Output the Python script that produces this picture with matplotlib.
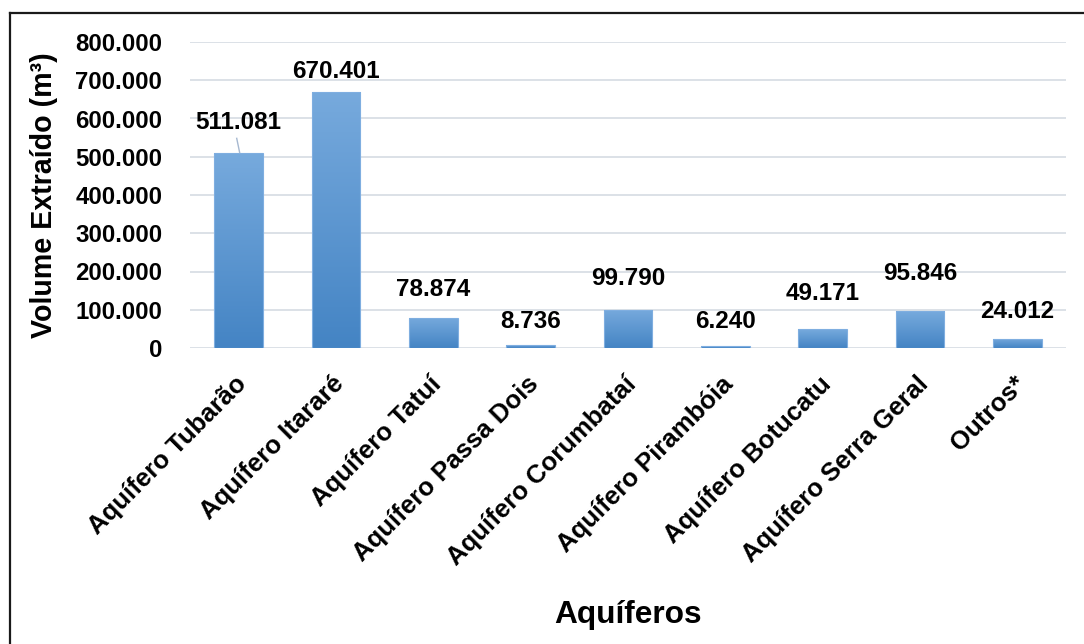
import numpy as np
import matplotlib
matplotlib.use("Agg")
import matplotlib.pyplot as plt
from matplotlib.colors import LinearSegmentedColormap
from matplotlib.lines import Line2D
from matplotlib.ticker import FuncFormatter
from matplotlib.transforms import ScaledTranslation

# data
aquiferos = ["Aquífero Tubarão", "Aquífero Itararé", "Aquífero Tatuí",
             "Aquífero Passa Dois", "Aquífero Corumbataí", "Aquífero Pirambóia",
             "Aquífero Botucatu", "Aquífero Serra Geral", "Outros*"]
volumes = [511081, 670401, 78874, 8736, 99790, 6240, 49171, 95846, 24012]
value_labels = ["511.081", "670.401", "78.874", "8.736", "99.790",
                "6.240", "49.171", "95.846", "24.012"]
y_ticks = [0, 100000, 200000, 300000, 400000, 500000, 600000, 700000, 800000]

# label offsets above each bar (pixels), Excel moves them around a bit
label_dy_px = [30, 20, 28, 23, 31, 24, 36, 38, 27]

plt.rcParams['font.family'] = ['Liberation Sans', 'DejaVu Sans']
plt.rcParams['font.weight'] = 'bold'

fig = plt.figure(figsize=(10.84, 6.44), dpi=100)
ax = fig.add_axes([190 / 1084, 296 / 644, 876 / 1084, 306 / 644])

x = np.arange(len(aquiferos))
width = 0.5
bars = ax.bar(x, volumes, width=width, color='none', edgecolor='#7FAEE0',
              linewidth=0.8, zorder=3)

# vertical gradient inside every bar: light at the top, darker at the bottom
cmap = LinearSegmentedColormap.from_list('blu', ['#4484C4', '#77AADD'])
grad = np.linspace(0, 1, 256).reshape(-1, 1)
for b in bars:
    x0 = b.get_x()
    h = b.get_height()
    im = ax.imshow(grad, extent=[x0, x0 + width, 0, h], origin='lower',
                   aspect='auto', cmap=cmap, zorder=2)
    im.set_clip_path(b)

ax.set_xlim(-0.5, len(aquiferos) - 0.5)
ax.set_ylim(0, 800000)
ax.set_yticks(y_ticks)
ax.yaxis.set_major_formatter(FuncFormatter(lambda v, p: f"{int(v):,}".replace(",", ".")))
ax.grid(axis='y', color='#D9DEE5', linewidth=1.3, zorder=0)
ax.set_axisbelow(True)
for s in ax.spines.values():
    s.set_visible(False)
ax.tick_params(axis='both', length=0)
ax.tick_params(axis='y', pad=20, labelsize=17.3)
ax.tick_params(axis='x', pad=17)
ax.set_xticks(x)
ax.set_xticklabels(aquiferos, rotation=45, ha='right', rotation_mode='anchor',
                   fontsize=18.5, fontweight='bold')
shift = ScaledTranslation(-4 / 100, 0, fig.dpi_scale_trans)
for t in ax.get_xticklabels():
    t.set_transform(t.get_transform() + shift)

# value labels
for i, (v, lab) in enumerate(zip(volumes, value_labels)):
    ax.annotate(lab, (x[i], v), xytext=(0, label_dy_px[i] * 0.72),
                textcoords='offset points', ha='center', va='center',
                fontsize=17.5, fontweight='bold', zorder=5)

# leader line for the first label
ax.add_line(Line2D([x[0] - 0.02, x[0] + 0.01], [volumes[0] + 37000, volumes[0]],
                   color='#A6B8D0', linewidth=1.0, zorder=4))

ax.set_ylabel("Volume Extraído (m³)", fontsize=20.6, fontweight='bold', labelpad=12)
ax.set_xlabel("Aquíferos", fontsize=22.8, fontweight='bold')
ax.xaxis.set_label_coords(628 / 1084, (644 - 600) / 644, transform=fig.transFigure)

# frame around the chart (only left and top show in the crop)
fig.add_artist(Line2D([9.5 / 1084, 9.5 / 1084], [0, 1 - 12.5 / 644],
                      transform=fig.transFigure, color='#1a1a1a', linewidth=1.6))
fig.add_artist(Line2D([9.5 / 1084, 1], [1 - 12.5 / 644, 1 - 12.5 / 644],
                      transform=fig.transFigure, color='#1a1a1a', linewidth=1.6))

fig.savefig("out.png", dpi=100)
